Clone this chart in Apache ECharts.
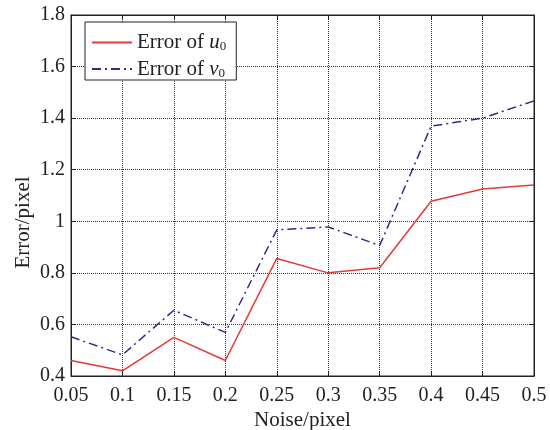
<!DOCTYPE html>
<html>
<head>
<meta charset="utf-8">
<script src="https://cdn.jsdelivr.net/npm/echarts@6/dist/echarts.min.js"></script>
<style>
  html, body { margin: 0; padding: 0; background: #fff; }
  #chart { width: 550px; height: 430px; }
</style>
</head>
<body>
<div id="chart"></div>
<script>
// 横轴：噪声水平
const noise = ['0.05', '0.1', '0.15', '0.2', '0.25', '0.3', '0.35', '0.4', '0.45', '0.5']
// u0 的误差
const errU0 = [0.46, 0.42, 0.55, 0.46, 0.856, 0.80, 0.82, 1.078, 1.125, 1.141]
// v0 的误差
const errV0 = [0.552, 0.482, 0.655, 0.569, 0.967, 0.978, 0.906, 1.369, 1.40, 1.467]

const font = 'Liberation Serif'
const black = '#222'

let myChart = echarts.init(document.getElementById('chart'))

let option = {
  backgroundColor: '#fff',
  animation: false,
  grid: {
    left: 71,
    right: 16,
    top: 15,
    bottom: 54,
    outerBoundsMode: 'none', // 不要自动收缩绘图区
    show: true,
    borderColor: black,
    borderWidth: 1
  },
  legend: {
    orient: 'vertical',
    left: 85,
    top: 22,
    itemWidth: 40,
    itemHeight: 12,
    itemGap: 5,
    padding: [10, 10, 0, 6],
    borderColor: black,
    borderWidth: 1,
    backgroundColor: '#fff',
    itemStyle: { opacity: 0 }, // 图例里只要线，不要圆点
    data: ['u0', 'v0'],
    formatter: function (name) {
      return '{t|Error of }{i|' + name.charAt(0) + '}{s|0}'
    },
    textStyle: {
      fontFamily: font,
      fontSize: 21,
      color: black,
      rich: {
        t: { fontFamily: font, fontSize: 21, color: black },
        i: { fontFamily: font, fontSize: 21, fontStyle: 'italic', color: black },
        s: { fontFamily: font, fontSize: 13, color: black, padding: [9, 0, 0, 0] }
      }
    }
  },
  xAxis: [
    {
      type: 'category',
      data: noise,
      boundaryGap: false,
      name: 'Noise/pixel',
      nameLocation: 'middle',
      nameGap: 34,
      nameMoveOverlap: false,
      nameTextStyle: { fontFamily: font, fontSize: 21, color: black },
      axisLine: { lineStyle: { color: black } },
      axisTick: { inside: true, length: 5, lineStyle: { color: black } },
      axisLabel: { fontFamily: font, fontSize: 20, color: black, margin: 10, interval: 0 },
      splitLine: { show: true, interval: 0, lineStyle: { color: '#333', type: 'dotted', width: 1 } }
    },
    {
      type: 'category',
      data: noise,
      boundaryGap: false,
      position: 'top',
      axisLine: { lineStyle: { color: black } },
      axisTick: { inside: true, length: 5, lineStyle: { color: black } },
      axisLabel: { show: false },
      splitLine: { show: false }
    }
  ],
  yAxis: [
    {
      type: 'value',
      min: 0.4,
      max: 1.8,
      interval: 0.2,
      name: 'Error/pixel',
      nameLocation: 'middle',
      nameGap: 37,
      nameMoveOverlap: false,
      // 名称整体往下挪，与原图位置一致
      nameTextStyle: { fontFamily: font, fontSize: 21, color: black, padding: [0, 54, 0, 0] },
      axisLine: { show: true, lineStyle: { color: black } },
      axisTick: { show: true, inside: true, length: 5, lineStyle: { color: black } },
      axisLabel: { fontFamily: font, fontSize: 20, color: black, margin: 6 },
      splitLine: { show: true, lineStyle: { color: '#333', type: 'dotted', width: 1 } }
    },
    {
      type: 'value',
      min: 0.4,
      max: 1.8,
      interval: 0.2,
      position: 'right',
      axisLine: { show: true, lineStyle: { color: black } },
      axisTick: { show: true, inside: true, length: 5, lineStyle: { color: black } },
      axisLabel: { show: false },
      splitLine: { show: false }
    }
  ],
  series: [
    {
      name: 'u0',
      type: 'line',
      data: errU0,
      symbol: 'none',
      itemStyle: { color: '#e03a3a' },
      lineStyle: { color: '#e03a3a', width: 1.5 }
    },
    {
      name: 'v0',
      type: 'line',
      data: errV0,
      symbol: 'none',
      itemStyle: { color: '#2c2c8a' },
      lineStyle: { color: '#2c2c8a', width: 1.5, type: [9, 4, 2, 4] }
    }
  ]
}

myChart.setOption(option, true)
</script>
</body>
</html>
